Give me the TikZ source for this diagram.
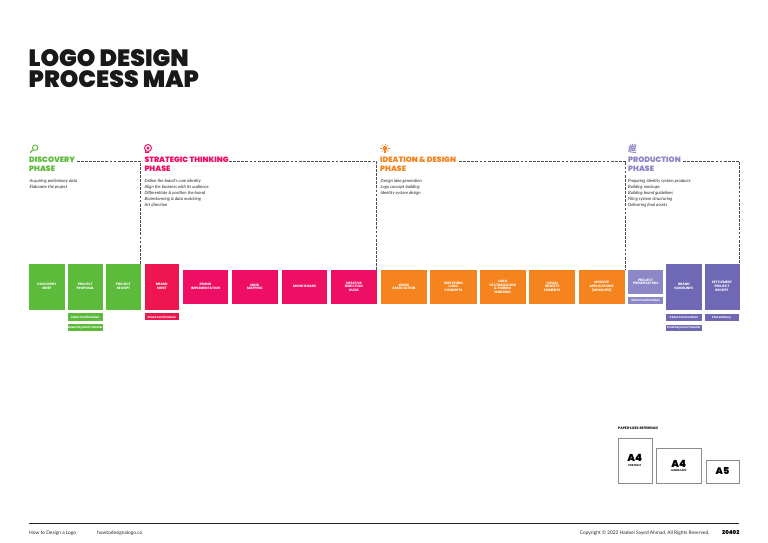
\documentclass[tikz,border=0pt]{standalone}
\usepackage{fontspec}
\setmainfont{Poppins}
\newfontfamily\heavy{Poppins}[UprightFont=*-Black]
\newfontfamily\semi{Poppins}[UprightFont=*-Bold]
\newfontfamily\body{Lato}[UprightFont=*-Regular,ItalicFont=*-Italic]
\definecolor{cgreen}{HTML}{5DBB3B}
\definecolor{cpink}{HTML}{EE0F64}
\definecolor{corange}{HTML}{F5841F}
\definecolor{cpurple}{HTML}{6E68B5}
\definecolor{cpurpleL}{HTML}{8C87C6}
\definecolor{cred}{HTML}{EE1650}
\tikzset{
 x=1pt,y=-1pt,
 procbox/.style={anchor=north west,inner sep=0,align=center,text=white,
   font=\semi\fontsize{3.3}{3.9}\selectfont},
 subbox/.style={procbox,font=\semi\fontsize{2.8}{3}\selectfont},
 phasehead/.style={anchor=north west,inner sep=0,align=left,font=\heavy\fontsize{7.7}{8.3}\selectfont},
 phasetext/.style={anchor=north west,inner sep=0,align=left,text=black!85,font=\body\itshape\fontsize{4.35}{6}\selectfont},
 dashline/.style={draw=black!70,line width=1pt,dash pattern=on 2.8pt off 1.3pt},
 paper/.style={draw=black!45,line width=0.8pt,fill=white,anchor=north west,inner sep=0,align=center},
 foot/.style={anchor=west,inner sep=0,text=black!85,font=\body\fontsize{4.85}{5}\selectfont},
}
\newcommand{\procb}[7]{% name, x1, y1, x2, y2, colour, text
 \node[procbox,fill=#6,minimum width=#4pt-#2pt,minimum height=#5pt-#3pt] (#1) at (#2,#3) {#7};}
\newcommand{\subb}[7]{%
 \node[subbox,fill=#6,minimum width=#4pt-#2pt,minimum height=#5pt-#3pt] (#1) at (#2,#3) {#7};}
\begin{document}
\begin{tikzpicture}
\useasboundingbox (0,0) rectangle (768,543);
\fill[white] (0,0) rectangle (768,543);
% title
\node[anchor=north west,inner sep=0,align=left,text=black!90,font=\heavy\fontsize{23.6}{21.3}\selectfont] (title) at (28.5,49.3) {LOGO DESIGN\\PROCESS MAP};
% dashed frames
\coordinate (d1a) at (76.7,161); \coordinate (d1b) at (140.6,161); \coordinate (d1c) at (140.6,263.5);
\coordinate (d2a) at (229,161); \coordinate (d2b) at (376.8,161); \coordinate (d2c) at (376.8,269.5);
\coordinate (d3a) at (459,161); \coordinate (d3b) at (625.7,161); \coordinate (d3c) at (625.7,269.5);
\coordinate (d4a) at (682.7,161); \coordinate (d4b) at (739.3,161); \coordinate (d4c) at (739.3,263.5);
\draw[dashline] (d1a)--(d1b)--(d1c);
\draw[dashline] (d2a)--(d2b)--(d2c);
\draw[dashline] (d3a)--(d3b)--(d3c);
\draw[dashline] (d4a)--(d4b)--(d4c);
% headings
\node[phasehead,text=cgreen] (h1) at (29,157.2) {DISCOVERY\\PHASE};
\node[phasehead,text=cpink] (h2) at (144.3,157.2) {STRATEGIC THINKING\\PHASE};
\node[phasehead,text=corange] (h3) at (380,157.2) {IDEATION \& DESIGN\\PHASE};
\node[phasehead,text=cpurpleL] (h4) at (628,157.2) {PRODUCTION\\PHASE};
% phase texts
\node[phasetext] (t1) at (29.5,179.2) {Acquiring preliminary data\\Elaborate the project};
\node[phasetext] (t2) at (144.5,179.2) {Define the brand's core identity\\Align the business with its audience\\Differentiate \& position the brand\\Brainstorming \& data matching\\Art direction};
\node[phasetext] (t3) at (380.5,179.2) {Design idea generation\\Logo concept building\\Identity system design};
\node[phasetext] (t4) at (628,179.2) {Preparing identity system products\\Building mockups\\Building brand guidelines\\Filing system structuring\\Delivering final assets};
% icons
\draw[cgreen,line width=0.9pt] (35.2,147.7) circle (2.7);
\draw[cgreen,line width=1.2pt] (33.3,149.7)--(30.1,152.6);
\draw[cpink,line width=0.9pt] (148,148) circle (3.5);
\draw[cpink,line width=0.9pt] (145.7,151) -- (145.7,152.8) -- (149,152.8);
\fill[cpink] (148,148) circle (1.6);
\fill[corange] (385,148.3) circle (2.3);
\fill[corange] (383.8,150.3) rectangle (386.2,152.8);
\foreach \a in {0,45,90,135,180,225,270,315}
  \draw[corange,line width=0.5pt] (385,148.3) ++(\a:3.1) -- ++(\a:1.6);
\foreach \i in {0,1,2,3}{
  \draw[cpurpleL,line width=0.75pt] (628.6+\i*1.7,151.6-\i*0.2) -- (631+\i*1.7,144.4-\i*0.2);
  \draw[cpurpleL,line width=0.75pt] (628.5,146+\i*1.9) -- (636.2,147+\i*1.9);
}
% green
\procb{g1}{29}{263.5}{64.5}{309.5}{cgreen}{DISCOVERY\\BRIEF}
\procb{g2}{67.5}{263.5}{102.7}{309.5}{cgreen}{PROJECT\\PROPOSAL}
\procb{g3}{106}{263.5}{140.5}{309.5}{cgreen}{PROJECT\\RECEIPT}
\subb{gs1}{67.5}{313.2}{102.7}{320.7}{cgreen}{Client Confirmation}
\subb{gs2}{67.5}{324.2}{102.7}{331}{cgreen}{Down Payment Transfer}
% pink
\procb{p1}{144.5}{263.5}{178.7}{309.5}{cred}{BRAND\\SHEET}
\subb{ps1}{144.5}{313.2}{178.7}{320.2}{cred}{Client Confirmation}
\procb{p2}{182.7}{269.5}{228}{303.7}{cpink}{BRAND\\IMPLEMENTATION}
\procb{p3}{232}{269.5}{277.3}{303.7}{cpink}{MIND\\MAPPING}
\procb{p4}{281.7}{269.5}{327}{303.7}{cpink}{MOOD BOARD}
\procb{p5}{331}{269.5}{376.3}{303.7}{cpink}{CREATIVE\\DIRECTION\\GUIDE}
% orange
\procb{o1}{380.3}{269.5}{427}{303.7}{corange}{WORD\\ASSOCIATION}
\procb{o2}{430}{269.5}{476.3}{303.7}{corange}{SKETCHING\\LOGO\\CONCEPTS}
\procb{o3}{479.3}{269.5}{525.7}{303.7}{corange}{LOGO\\VECTORIZATION\\\& PAIRING\\WORDING}
\procb{o4}{529}{269.5}{575}{303.7}{corange}{VISUAL\\IDENTITY\\ELEMENTS}
\procb{o5}{578.3}{269.5}{624.7}{303.7}{corange}{MOCKUP\\APPLICATIONS\\(MOCKUPS)}
% purple
\procb{u1}{627.7}{269.5}{663}{293.7}{cpurpleL}{PROJECT\\PRESENTATION}
\subb{us1}{627.7}{296.7}{663}{303.7}{cpurpleL}{Client Confirmation}
\procb{u2}{666}{263.5}{701.3}{309.5}{cpurple}{BRAND\\GUIDELINES}
\procb{u3}{704.3}{263.5}{739.3}{309.5}{cpurple}{SETTLEMENT\\PROJECT\\RECEIPT}
\subb{us2}{666}{314}{701.3}{320.7}{cpurple}{Client Confirmation}
\subb{us3}{666}{324.3}{701.3}{331}{cpurple}{Final Payment Transfer}
\subb{us4}{704.3}{314}{738.7}{320.7}{cpurple}{Files Delivery}
% paper sizes
\node[anchor=west,inner sep=0,font=\semi\fontsize{3.4}{4}\selectfont] (ptitle) at (618,428.3) {PAPER SIZES REFERENCE};
\node[paper,minimum width=34pt,minimum height=44.7pt] (a4p) at (617.7,438) {};
\node[inner sep=0,font=\heavy\fontsize{10}{10}\selectfont] (a4pt) at (634.7,458.3) {A4};
\node[inner sep=0,font=\semi\fontsize{2.6}{3}\selectfont] (a4ps) at (634.7,465.5) {PORTRAIT};
\node[paper,minimum width=44.7pt,minimum height=34.4pt] (a4l) at (656.3,448.3) {};
\node[inner sep=0,font=\heavy\fontsize{10}{10}\selectfont] (a4lt) at (678.7,463.5) {A4};
\node[inner sep=0,font=\semi\fontsize{2.6}{3}\selectfont] (a4ls) at (678.7,471) {LANDSCAPE};
\node[paper,minimum width=33.6pt,minimum height=22.4pt] (a5) at (705.7,460.3) {};
\node[inner sep=0,font=\heavy\fontsize{9.5}{10}\selectfont] (a5t) at (722.5,471.5) {A5};
% footer
\coordinate (fa) at (29,523); \coordinate (fb) at (739,523);
\draw[black!85,line width=0.8pt] (fa)--(fb);
\node[foot] (f1) at (29,532.8) {How to Design a Logo};
\node[foot] (f2) at (97,532.8) {howtodesignalogo.co};
\node[foot,anchor=east] (f3) at (709.5,532.8) {Copyright © 2022 Hadeel Sayed Ahmad, All Rights Reserved,};
\node[anchor=east,inner sep=0,font=\heavy\fontsize{5.4}{6}\selectfont] (f4) at (739.5,532.3) {20402};
\end{tikzpicture}
\end{document}
